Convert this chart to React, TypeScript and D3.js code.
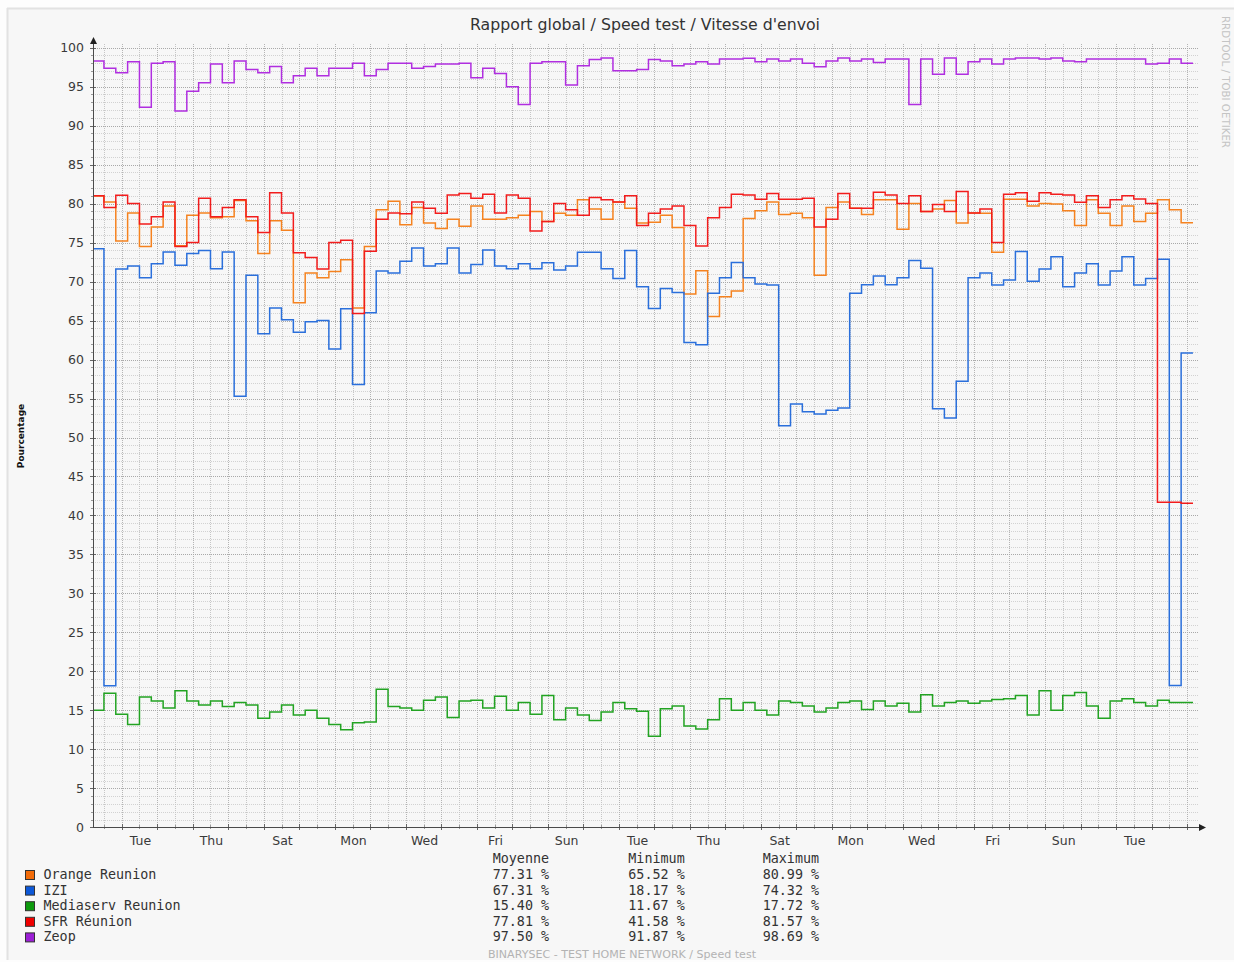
import React from "react";
import * as d3 from "d3";

// ---------- Text ----------
const TITLE = "Rapport global / Speed test / Vitesse d'envoi";
const Y_TITLE = "Pourcentage";
const WATERMARK = "RRDTOOL / TOBI OETIKER";
const FOOTER = "BINARYSEC - TEST HOME NETWORK / Speed test";

// ---------- Axes ----------
// x in hours since Tuesday 00:00 (local time)
const X_DOMAIN = [-19.4, 727.4];
const DAY_LABELS = ["Tue", "Thu", "Sat", "Mon", "Wed", "Fri", "Sun", "Tue", "Thu", "Sat", "Mon", "Wed", "Fri", "Sun", "Tue"];
const DAY_LABEL_OFFSETS = [0, 2, 4, 6, 8, 10, 12, 14, 16, 18, 20, 22, 24, 26, 28];
const Y_TICKS = [0, 5, 10, 15, 20, 25, 30, 35, 40, 45, 50, 55, 60, 65, 70, 75, 80, 85, 90, 95, 100];

// data: one value per 8-hour step; step k covers [FIRST_START + 8k, FIRST_START + 8(k+1)]
const FIRST_START_H = -20;
const STEP_H = 8;

const orange = [80.99, 80.2, 75.2, 78.8, 74.5, 77.0, 79.7, 74.6, 78.5, 78.8, 78.2, 78.3, 80.4, 77.8, 73.6, 77.8, 76.6, 67.3, 71.1, 70.5,
  71.3, 72.8, 66.6, 74.5, 79.2, 80.3, 77.3, 79.5, 77.5, 76.8, 78.0, 77.1, 79.7, 78.0, 78.0, 78.2, 78.5, 79.0, 77.7, 78.75,
  78.5, 80.5, 79.3, 78.0, 80.2, 79.4, 77.5, 77.6, 78.5, 76.95, 68.4, 71.4, 65.52, 68.05, 68.8, 78.1, 79.1, 80.2, 78.6, 78.75,
  78.2, 70.8, 79.5, 80.2, 79.4, 78.6, 80.5, 80.5, 76.7, 80.0, 79.0, 79.3, 80.4, 77.5, 78.8, 78.75, 73.75, 80.55, 80.55, 79.7,
  80.0, 79.95, 79.1, 77.2, 80.5, 78.75, 77.2, 79.7, 77.7, 78.75, 80.5, 79.2, 77.55];

const izi = [74.2, 18.17, 71.6, 72.0, 70.5, 72.3, 73.8, 72.1, 73.6, 74.0, 71.65, 73.8, 55.3, 70.8, 63.3, 66.6, 65.1, 63.5, 64.85, 65.0,
  61.35, 66.5, 56.8, 66.0, 71.35, 71.1, 72.6, 74.32, 72.0, 72.3, 74.3, 71.1, 72.2, 74.05, 72.0, 71.65, 72.3, 71.65, 72.4, 71.5,
  72.0, 73.75, 73.75, 71.65, 70.4, 74.0, 69.35, 66.55, 69.1, 68.6, 62.2, 61.9, 68.5, 70.5, 72.45, 70.5, 69.7, 69.55, 51.5, 54.3,
  53.3, 53.0, 53.5, 53.8, 68.5, 69.6, 70.7, 69.6, 70.5, 72.7, 71.7, 53.7, 52.5, 57.2, 70.5, 71.1, 69.55, 70.2, 73.85, 70.05,
  71.6, 73.2, 69.35, 71.1, 72.3, 69.55, 71.35, 73.2, 69.55, 70.4, 72.85, 18.2, 60.85];

const mediaserv = [15.0, 17.2, 14.5, 13.2, 16.7, 16.2, 15.3, 17.5, 16.2, 15.7, 16.2, 15.5, 16.0, 15.7, 14.0, 14.8, 15.7, 14.4, 15.0, 14.0,
  13.2, 12.5, 13.4, 13.5, 17.72, 15.5, 15.3, 15.0, 16.3, 16.7, 14.1, 16.2, 16.3, 15.3, 16.8, 15.0, 16.0, 14.5, 16.9, 13.8,
  15.3, 14.4, 13.7, 14.8, 16.0, 15.2, 14.9, 11.67, 15.2, 15.55, 13.0, 12.6, 13.8, 16.5, 15.0, 16.0, 15.0, 14.4, 16.2, 16.0,
  15.55, 14.8, 15.3, 16.0, 16.2, 15.1, 16.2, 15.55, 15.9, 14.8, 17.0, 15.55, 16.0, 16.2, 15.9, 16.2, 16.4, 16.5, 16.9, 14.4,
  17.5, 15.0, 16.9, 17.3, 15.55, 14.0, 16.2, 16.5, 16.0, 15.55, 16.3, 16.0, 16.0];

const sfr = [81.0, 79.5, 81.06, 80.0, 77.4, 78.3, 80.2, 74.5, 75.0, 80.7, 78.3, 79.5, 80.5, 78.3, 76.3, 81.4, 78.8, 73.7, 73.1, 71.6,
  75.0, 75.3, 65.9, 73.9, 78.0, 78.8, 78.7, 80.2, 79.4, 78.75, 81.1, 81.3, 80.7, 81.2, 78.8, 81.1, 80.7, 76.5, 77.7, 80.0,
  79.2, 78.5, 80.8, 80.5, 80.2, 81.0, 77.2, 78.75, 79.3, 79.7, 77.2, 74.55, 78.2, 79.5, 81.2, 81.1, 80.55, 81.3, 80.55, 80.55,
  80.7, 77.0, 78.0, 81.3, 79.4, 79.4, 81.45, 81.1, 80.0, 81.0, 79.0, 79.9, 79.0, 81.57, 78.8, 79.3, 75.0, 81.2, 81.4, 80.3,
  81.4, 81.2, 81.1, 80.16, 81.0, 79.5, 80.5, 81.0, 80.6, 80.0, 41.69, 41.69, 41.58];

const zeop = [98.3, 97.35, 96.8, 98.2, 92.35, 98.0, 98.2, 91.87, 94.4, 95.5, 97.9, 95.5, 98.3, 97.2, 96.8, 97.6, 95.5, 96.4, 97.35, 96.4,
  97.35, 97.35, 98.0, 96.4, 97.2, 98.0, 98.0, 97.35, 97.6, 97.9, 97.9, 98.0, 96.15, 97.35, 96.7, 95.0, 92.7, 98.0, 98.2, 98.2,
  95.2, 97.7, 98.5, 98.69, 97.05, 97.05, 97.2, 98.5, 98.3, 97.7, 97.9, 98.2, 97.9, 98.55, 98.55, 98.65, 98.2, 98.55, 98.3, 98.55,
  98.0, 97.55, 98.3, 98.69, 98.3, 98.55, 98.1, 98.55, 98.55, 92.7, 98.55, 96.6, 98.69, 96.6, 98.2, 98.55, 97.9, 98.55, 98.69, 98.69,
  98.55, 98.69, 98.3, 98.2, 98.55, 98.55, 98.55, 98.55, 98.55, 97.9, 98.0, 98.55, 98.0];

const SERIES_NAMES = ["Orange Reunion", "IZI", "Mediaserv Reunion", "SFR Réunion", "Zeop"];
const SERIES_VALUES = [orange, izi, mediaserv, sfr, zeop];
const LINE_COLORS = ["#f5821f", "#2a6fdb", "#22a322", "#f21c1c", "#b02ee0"];
const SWATCH_COLORS = ["#f26c0a", "#0c58d8", "#0d9a0d", "#f00000", "#9c1fd6"];

const STAT_HEADERS = ["Moyenne", "Minimum", "Maximum"];
const STAT_AVG = ["77.31 %", "67.31 %", "15.40 %", "77.81 %", "97.50 %"];
const STAT_MIN = ["65.52 %", "18.17 %", "11.67 %", "41.58 %", "91.87 %"];
const STAT_MAX = ["80.99 %", "74.32 %", "17.72 %", "81.57 %", "98.69 %"];

// ---------- Layout ----------
const W = 1234;
const H = 962;
const PLOT = { left: 93, right: 1198, top: 44, bottom: 827.3, yTopVal: 47.7 };
const SANS = "'DejaVu Sans', Verdana, sans-serif";
const MONO = "'DejaVu Sans Mono', monospace";

export default function App() {
  const x = d3.scaleLinear().domain(X_DOMAIN).range([PLOT.left, PLOT.right]);
  const y = d3.scaleLinear().domain([0, 100]).range([PLOT.bottom, PLOT.yTopVal]);

  const line = d3
    .line<[number, number]>()
    .x((d) => x(d[0]))
    .y((d) => y(d[1]))
    .curve(d3.curveStepAfter);

  const seriesPaths = SERIES_VALUES.map((vals) => {
    const pts: [number, number][] = vals.map((v, k) => [FIRST_START_H + STEP_H * k, v]);
    pts.push([FIRST_START_H + STEP_H * vals.length, vals[vals.length - 1]]);
    return line(pts) || "";
  });

  // grid hours: every 12h
  const gridHours: number[] = [];
  for (let h = -12; x(h) <= PLOT.right; h += 12) gridHours.push(h);
  const minorY: number[] = [];
  for (let v = 1; v <= 100; v++) if (v % 5 !== 0) minorY.push(v);

  const px = (v: number) => Math.round(v) + 0.5;

  const legendBase = 879;
  const rowH = 15.6;

  return (
    <div style={{ position: "absolute", left: 0, top: 0, width: W, height: H, overflow: "hidden" }}>
      <svg width={W} height={H} style={{ display: "block" }}>
        <rect x={0} y={0} width={W} height={H} fill="#fdfdfd" />
        <rect x={7} y={8} width={W - 7} height={H - 10} fill="#f7f7f7" />
        <line x1={7} x2={W} y1={8.5} y2={8.5} stroke="#e2e2e2" strokeWidth={2} />
        <line x1={7.5} x2={7.5} y1={8} y2={H - 2} stroke="#e2e2e2" strokeWidth={2} />

        <defs>
          <clipPath id="plotclip">
            <rect x={PLOT.left} y={PLOT.top - 2} width={PLOT.right - PLOT.left} height={PLOT.bottom - PLOT.top + 4} />
          </clipPath>
        </defs>

        {/* grid */}
        <g shapeRendering="crispEdges">
          {minorY.map((v) => (
            <line key={"my" + v} x1={PLOT.left} x2={PLOT.right} y1={px(y(v))} y2={px(y(v))} stroke="#d2d2d2" strokeDasharray="1,1" />
          ))}
          {gridHours.map((h) => (
            <line key={"gx" + h} x1={px(x(h))} x2={px(x(h))} y1={PLOT.top} y2={PLOT.bottom} stroke={h % 24 === 0 ? "#b4b4b4" : "#c6c6c6"} strokeDasharray="1,1" />
          ))}
          {Y_TICKS.filter((v) => v > 0).map((v) => (
            <line key={"My" + v} x1={PLOT.left} x2={PLOT.right} y1={px(y(v))} y2={px(y(v))} stroke="#a9a9a9" strokeDasharray="1,1" />
          ))}
          {/* y ticks */}
          {Y_TICKS.map((v) => (
            <line key={"yt" + v} x1={PLOT.left - 3} x2={PLOT.left + 3} y1={px(y(v))} y2={px(y(v))} stroke="#666" />
          ))}
          {minorY.map((v) => (
            <line key={"ymt" + v} x1={PLOT.left - 2} x2={PLOT.left} y1={px(y(v))} y2={px(y(v))} stroke="#999" />
          ))}
          {/* x ticks */}
          {gridHours.map((h) => (
            <line key={"xt" + h} x1={px(x(h))} x2={px(x(h))} y1={PLOT.bottom - (h % 24 === 0 ? 3 : 2)} y2={PLOT.bottom + (h % 24 === 0 ? 3 : 2)} stroke={h % 24 === 0 ? "#666" : "#999"} />
          ))}
        </g>

        {/* series */}
        <g clipPath="url(#plotclip)" fill="none" strokeWidth={1.5} strokeLinejoin="miter">
          {seriesPaths.map((d, i) => (
            <path key={SERIES_NAMES[i]} d={d} stroke={LINE_COLORS[i]} />
          ))}
        </g>

        {/* axes */}
        <g shapeRendering="crispEdges">
          <line x1={px(PLOT.left)} x2={px(PLOT.left)} y1={PLOT.bottom} y2={40} stroke="#4a4a4a" />
          <line x1={PLOT.left} x2={1202} y1={px(PLOT.bottom)} y2={px(PLOT.bottom)} stroke="#4a4a4a" />
        </g>
        <path d={`M ${px(PLOT.left) - 3.5} 44 L ${px(PLOT.left)} 37 L ${px(PLOT.left) + 3.5} 44 Z`} fill="#222" />
        <path d={`M 1199 ${px(PLOT.bottom) - 3.5} L 1206 ${px(PLOT.bottom)} L 1199 ${px(PLOT.bottom) + 3.5} Z`} fill="#222" />

        {/* y labels */}
        {Y_TICKS.map((v) => (
          <text key={"yl" + v} x={84} y={y(v) + 4.5} textAnchor="end" fontFamily={SANS} fontSize={12.5} fill="#3a3a3a">
            {v}
          </text>
        ))}
        {/* x labels */}
        {DAY_LABELS.map((lab, i) => (
          <text key={"xl" + i} x={x(DAY_LABEL_OFFSETS[i] * 24 + 12) + 1} y={845} textAnchor="middle" fontFamily={SANS} fontSize={12.5} fill="#3a3a3a">
            {lab}
          </text>
        ))}

        {/* titles */}
        <text x={645} y={30} textAnchor="middle" fontFamily={SANS} fontSize={15} fill="#333" textLength={350} lengthAdjust="spacingAndGlyphs">
          {TITLE}
        </text>
        <text transform="translate(24,436) rotate(-90)" textAnchor="middle" fontFamily={SANS} fontSize={9} fontWeight="bold" fill="#111">
          {Y_TITLE}
        </text>
        <text transform="translate(1222,82) rotate(90)" textAnchor="middle" fontFamily={SANS} fontSize={10} fill="#c4c4c4" textLength={132} lengthAdjust="spacingAndGlyphs">
          {WATERMARK}
        </text>

        {/* legend */}
        {STAT_HEADERS.map((hd, j) => (
          <text key={hd} x={[492.7, 628.3, 762.7][j]} y={legendBase - rowH} fontFamily={MONO} fontSize={13.4} fill="#333" xmlSpace="preserve">
            {hd}
          </text>
        ))}
        {SERIES_NAMES.map((name, i) => {
          const by = legendBase + i * rowH;
          return (
            <g key={"lg" + i}>
              <rect x={25.5} y={by - 8.5} width={9} height={9} fill={SWATCH_COLORS[i]} stroke="#333" strokeWidth={1} />
              <text x={43.5} y={by} fontFamily={MONO} fontSize={13.4} fill="#333">
                {name}
              </text>
              <text x={492.7} y={by} fontFamily={MONO} fontSize={13.4} fill="#333" xmlSpace="preserve">
                {STAT_AVG[i]}
              </text>
              <text x={628.3} y={by} fontFamily={MONO} fontSize={13.4} fill="#333" xmlSpace="preserve">
                {STAT_MIN[i]}
              </text>
              <text x={762.7} y={by} fontFamily={MONO} fontSize={13.4} fill="#333" xmlSpace="preserve">
                {STAT_MAX[i]}
              </text>
            </g>
          );
        })}
        <text x={622} y={958} textAnchor="middle" fontFamily={SANS} fontSize={11} fill="#b3b3b3" textLength={268} lengthAdjust="spacingAndGlyphs">
          {FOOTER}
        </text>
      </svg>
    </div>
  );
}
